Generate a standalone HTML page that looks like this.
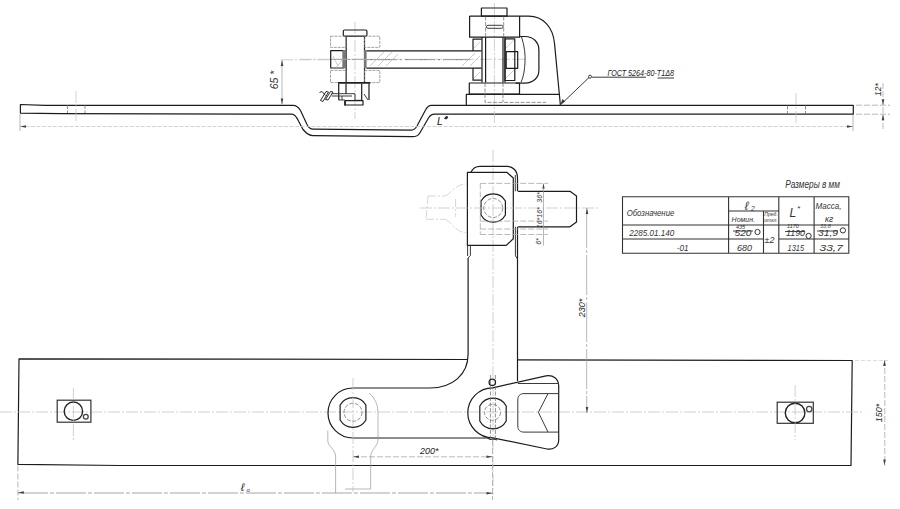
<!DOCTYPE html>
<html><head><meta charset="utf-8">
<style>
html,body{margin:0;padding:0;background:#fff;width:900px;height:509px;overflow:hidden}
svg{display:block;position:absolute;left:0;top:0}
.k{stroke:#1c1c1c;stroke-width:1.2;fill:none;stroke-linejoin:round}
.kt{stroke:#3a3a3a;stroke-width:1;fill:none}
.t{stroke:#9a9a9a;stroke-width:0.7;fill:none}
.d{stroke:#a8a8a8;stroke-width:0.8;fill:none;stroke-dasharray:6 2}
.c{stroke:#bdbdbd;stroke-width:0.7;fill:none;stroke-dasharray:12 2 2 2}
.dk{stroke:#777;stroke-width:0.8;fill:none;stroke-dasharray:4 1.5}
.h{stroke:#b5b5b5;stroke-width:0.7;fill:none}
text{font-family:"Liberation Sans",sans-serif;font-style:italic;fill:#333}
</style></head><body>
<svg width="900" height="509" viewBox="0 0 900 509">
<!-- ===== TOP VIEW ===== -->
<!-- bar -->
<path class="k" d="M20.4,104.5 L45,105.3 L293,105.3 C296.5,105.3 298.5,107 300.5,110.5 L307,124.5 C308.5,127.5 310,129.2 313,129.2 L411,130.2 C414,130.2 415.5,128.5 417,126 L425.5,110 C427,107 428.5,105.3 431.5,105.3 L853.3,105.3 L853.3,114.2 L434.5,114.1 C431.5,114.1 430,115.5 428.5,118 L419.5,133.5 C418,136 416,136.7 412.5,136.7 L313,135.6 C309,135.6 306,133 303,129.5 L298.5,121 C296.5,117 295,114.2 292,114.2 L60,113.6 L20.4,113.1 Z"/>
<path class="dk" d="M67.5,105 V113 M85,105 V113 M787.5,105.5 V114 M805.5,105.5 V114"/>
<path class="c" d="M76,91 V122 M796,93 V124"/>
<!-- L* dimension -->
<path class="t" d="M20,114 V131 M853,115 V131"/>
<path stroke="#c8c8c8" stroke-width="0.8" fill="none" stroke-dasharray="4 1.5" d="M20,126.5 H853"/>
<path d="M20,126.5 l6,-1.3 v2.6 z M853,126.5 l-6,-1.3 v2.6 z" fill="#444"/>
<text x="437" y="124.5" font-size="10.5" style="fill:#222">L</text><path d="M444.5,118.5 L446,116.5 L448,117 L446.5,119 Z" fill="#222" stroke="#222" stroke-width="0.8"/>
<!-- 12* dim -->
<path class="d" d="M856,105.2 H890 M856,114.2 H890 M883,83 V129"/>
<path d="M883,105.2 l-1.3,-6 h2.6 z M883,114.2 l-1.3,6 h2.6 z" fill="#444"/>
<text transform="translate(881,89.5) rotate(-90)" font-size="8.5" text-anchor="middle" style="fill:#222">12*</text>
<!-- 65* dim -->
<path class="t" d="M282,60 V104.6"/>
<path class="c" d="M281,59.8 H331"/>
<path stroke="#777" stroke-width="0.8" fill="none" stroke-dasharray="14 2 3 2" d="M331,59.4 H366"/>
<path d="M282,60 l-1.3,6 h2.6 z M282,104.6 l-1.3,-6 h2.6 z" fill="#444"/>
<text transform="translate(278,80) rotate(-90)" font-size="10.5" text-anchor="middle">65 *</text>

<!-- left bolt assembly -->
<path class="c" d="M355,22 V119"/>
<rect class="k" x="343.3" y="30" width="23.6" height="6.2" rx="1.2"/>
<path class="k" d="M346.2,36.2 V82.8 M364.5,36.2 V82.8"/>
<g stroke="#8a8a8a" stroke-width="0.8" fill="none" stroke-dasharray="3 1">
<rect x="330.5" y="36.2" width="15.5" height="11.2"/>
<rect x="364.5" y="36.2" width="15.3" height="11.2"/>
<rect x="330.5" y="70.4" width="15.5" height="12.2"/>
<rect x="364.5" y="70.4" width="15.3" height="12.2"/>
</g>
<rect class="k" x="330.7" y="50.7" width="12.6" height="17.3"/>
<rect x="342.7" y="50" width="3.6" height="18.4" fill="#777"/>
<rect x="364" y="50" width="2.6" height="18.4" fill="#777"/>
<path class="h" d="M333,56 L338,66 M336,68 L342,60"/>
<path d="M338,82.8 H370.3" stroke="#222" stroke-width="1.8"/>
<path class="k" d="M338.7,83.5 V100 M369,83.5 V100 M346,83.5 V94 M361.7,83.5 V100.3"/>
<path class="kt" d="M331.7,93.7 H355 V100.3 H361.7 M331.7,96 H352 M338.7,96 V100 H342 V96 M342,100 H345"/>
<path class="k" d="M345,100.7 H363 V105 H345 Z"/>
<path d="M345,101 V105.5" stroke="#222" stroke-width="1.6"/>
<path class="kt" d="M364,94 L368,100"/>
<path d="M319.5,92.5 L322,91.5 L325.5,95.5 M320.5,100.5 L326,91.5 L328.5,92 L323,101.5 Z M325.5,99.5 L330.5,91.5 L333,92 L328,100 Z" fill="none" stroke="#2a2a2a" stroke-width="1"/>
<!-- arm bar -->
<path class="k" d="M366.6,50.9 H481.6 M366.6,68.2 H481.6"/>
<path stroke="#666" stroke-width="0.9" fill="none" stroke-dasharray="30 3 2 3" d="M367,59.6 H470"/>
<path class="c" d="M300,59.3 H525"/>
<path class="h" d="M370,66 L384,52 M378,66 L392,52 M386,66 L398,54 M462,66 L475,53 M470,66 L480,56"/>

<!-- right clamp -->
<path class="c" d="M494.4,3 V125"/>
<rect class="k" x="481.4" y="8" width="25.6" height="8.1"/>
<path class="k" d="M469.6,16.1 H528.7 C543,16.1 553,27 554.5,43.4 L560.4,105.3 M469.6,16.1 V37.2 H519.6 V16.1"/>
<rect class="kt" x="486.4" y="25.3" width="16.7" height="3" rx="1.5"/>
<path class="dk" d="M485.6,16.5 V37 M503.7,16.5 V37"/>
<!-- D shape -->
<path class="k" d="M519.4,36.5 H525 C533,36.5 538.9,42 538.9,50 V70 C538.9,78 533,83.1 525,83.1 H515.6"/>
<path class="kt" d="M521.5,36.8 C524.5,46 525.5,55 525,62 C524.7,70 523.5,77 521,82.4"/>
<!-- bushings -->
<path class="k" d="M473,50.9 V39.2 H481.6 M473,68.2 V80.2 H481.6"/>
<rect class="k" x="505" y="38.9" width="9.8" height="41.6"/>
<path class="h" d="M474,48 L480,42 M474,78 L480,72 M506,48 L514,40 M506,78 L514,70"/>
<path class="k" d="M482,37 V82.5 M485.6,37 V82.5 M503,37 V82.5 M505,37 V82.5"/>
<rect class="k" x="506.2" y="51.6" width="11.5" height="16.7"/>
<!-- base -->
<rect class="k" x="469.3" y="83" width="50.2" height="11.2"/>
<path class="k" d="M466.3,105.3 V94.4 H559.3"/>
<path class="dk" d="M485,83 V102.4 H546 M503,83 V102"/>
<!-- leader -->
<path class="kt" d="M560.3,105 L589,77.5 M592,77.2 H646 M657.5,78 H674"/>
<circle class="kt" cx="590" cy="76.7" r="1.5"/>
<path d="M560.5,104.5 l2,-5.5 l2.5,2.5 z" fill="#333"/>
<text x="607.5" y="76" font-size="8.5" textLength="66.5" lengthAdjust="spacingAndGlyphs" style="fill:#222">ГОСТ 5264-80-Т1Δ8</text>

<!-- ===== BOTTOM VIEW ===== -->
<!-- plate -->
<path class="k" d="M467.6,359.5 L19,358.8 L17.9,464.3 L120,465.5 L851,465.5 L852.2,360.5 L517.5,359.9"/>
<path class="c" d="M0,412 H862"/>
<!-- holes -->
<rect x="57.2" y="400.2" width="33.7" height="22" fill="none" stroke="#333" stroke-width="1.2"/>
<circle cx="73.4" cy="411.2" r="9.2" fill="none" stroke="#222" stroke-width="1.4"/>
<circle cx="85.8" cy="416.7" r="2.4" fill="none" stroke="#444" stroke-width="1.3"/>
<path class="c" d="M73.4,388 V440"/>
<rect x="777.2" y="402.2" width="36.1" height="21.1" fill="none" stroke="#333" stroke-width="1.2"/>
<circle cx="795.1" cy="413" r="9.8" fill="none" stroke="#222" stroke-width="1.4"/>
<circle cx="809.2" cy="409.1" r="2.7" fill="none" stroke="#444" stroke-width="1.3"/>
<path class="c" d="M795.1,385 V440"/>
<!-- 150* dim -->
<path stroke="#d0d0d0" stroke-width="0.7" fill="none" stroke-dasharray="4 2" d="M855,360.5 H888"/>
<path class="d" d="M884.8,360 V465.6"/>
<path d="M884.5,360 l-1.3,6 h2.6 z M884.5,465.6 l-1.3,-6 h2.6 z" fill="#444"/>
<text transform="translate(882,413) rotate(-90)" font-size="9" text-anchor="middle" style="fill:#222">150*</text>

<!-- vertical arm -->
<path class="c" d="M493,150 V495"/>
<path class="k" d="M468.1,258 V354 C468.1,375 452,388 430,388 H353 A25,25 0 0 0 353,438 H490"/>
<path class="k" d="M517.5,246 V381"/>
<!-- nut left -->
<path class="k" d="M340.1,405 A15,15 0 0 1 365.9,405 V420 A15,15 0 0 1 340.1,420 Z"/>
<circle class="dk" cx="353" cy="412.3" r="9"/>
<!-- clevis -->
<path class="k" d="M492.8,387.8 L546,375.8 C553,374.5 558.7,379 558.7,386 V440 C558.7,446 554,450 547,449 L492.8,437.8 A25,25 0 0 1 492.8,387.8 Z"/>
<path class="kt" d="M517.8,383.5 H559 M524,393.6 H559 M524,432.1 H559 M517.8,400 C517.8,396 520,393.6 524,393.6 M517.8,426 C517.8,430 520,432.1 524,432.1 M517.8,400 V426 M548,393.6 L538.4,412.3 L548,432.1"/>
<path class="k" d="M479.8,406 A15,15 0 0 1 506.2,406 V421 A15,15 0 0 1 479.8,421 Z"/>
<path class="dk" d="M490.4,375 V440 M495.4,375 V440"/>
<circle class="dk" cx="492.5" cy="412.3" r="8"/>
<circle cx="492.3" cy="382.3" r="3.2" fill="none" stroke="#222" stroke-width="1.3"/>
<path d="M487,437.5 L490,439.5 L494,439 L497,440" fill="none" stroke="#333" stroke-width="1.2"/>
<!-- top block -->
<path class="k" d="M467.4,245.4 V172.3 H506.8 L513.3,178 V238.75 L506.25,245.4 Z"/>
<path class="kt" d="M467.6,245.4 V256 M470.4,245.4 V255.4 L468.1,258 M515.4,226.8 V255.8 L517.5,259 M515.3,175 V191.3"/>
<path class="k" d="M471,172 C473,168 475,166.3 480,166.3 H507 C513,166.3 517.5,171 517.5,178 V191.3 M517.5,226.8 V246"/>
<path class="k" d="M518.1,191.3 H570 L576.5,196 V222 L570,226.8 H518.1"/>
<path class="k" d="M481,201 A14,14 0 0 1 505.4,201 V215 A14,14 0 0 1 481,215 Z"/>
<circle class="dk" cx="493.2" cy="208" r="9.5"/>
<path class="d" d="M480.3,183.4 H548 M480.3,234.5 H548 M480.3,183.4 V234.5 M480.3,221.1 H548 M480.3,229 H548"/>
<path stroke="#c4c4c4" stroke-width="0.7" fill="none" stroke-dasharray="8 2 2 2" d="M445,196 C452,193 455,184 467,184 M445,219.3 C452,222 455,232.6 467,232.6 M428,196 H445 M426,219.3 H445 M428,196 L426,219.3 M455.6,199 V216.8"/>
<path class="c" d="M420,208 H600"/>
<path class="t" d="M543.5,183.4 V245.5"/>
<g style="fill:#222">
<text transform="translate(542,197.5) rotate(-90)" font-size="7" text-anchor="middle">36*</text>
<text transform="translate(542,212.5) rotate(-90)" font-size="7" text-anchor="middle">16*</text>
<text transform="translate(541.5,223) rotate(-90)" font-size="7" text-anchor="middle">16*</text>
<text transform="translate(540.5,241.5) rotate(-90)" font-size="7" text-anchor="middle">6*</text>
</g>
<path d="M543.5,183.4 l-1.2,5 h2.4 z" fill="#444"/>
<!-- 230 dim -->
<path stroke="#9a9a9a" stroke-width="0.7" fill="none" stroke-dasharray="40 2 3 2" d="M586.7,208 V412.9"/>
<path d="M587,208 l-1.3,6 h2.6 z M587,412.9 l-1.3,-6 h2.6 z" fill="#444"/>
<text transform="translate(585,308) rotate(-90)" font-size="9" text-anchor="middle" style="fill:#222">230*</text>
<!-- 200 dim -->
<path class="d" d="M353,456.8 H492.5 M492.5,440 V500"/>
<path d="M353,456.8 l6,-1.3 v2.6 z M492.5,456.8 l-6,-1.3 v2.6 z" fill="#444"/>
<text x="420" y="453.5" font-size="9" style="fill:#222">200*</text>
<!-- l0 dim -->
<path stroke="#8f8f8f" stroke-width="0.8" fill="none" stroke-dasharray="30 2 4 2" d="M17.9,493 H492.5"/>
<path class="d" d="M17.9,465.5 V500"/>
<path d="M17.9,492.5 l6,-1.3 v2.6 z M492.5,493.3 l-6,-1.3 v2.6 z" fill="#444"/>
<text x="241" y="491" font-size="11" style="fill:#222">ℓ</text><text x="246.5" y="491.5" font-size="6" style="fill:#222">o</text>
<!-- ghost lines -->
<path class="t" d="M327.8,430.5 V441 C327.8,446 335.6,450 335.6,456 V493 M369,393 A25,25 0 0 1 378,412 V440 C378,446 370.7,450 370.7,456 V489 H345"/>
<path class="c" d="M353,378 V492"/>

<!-- ===== TABLE ===== -->
<g class="tb">
<text x="785.2" y="188.2" font-size="10" textLength="54.7" lengthAdjust="spacingAndGlyphs">Размеры в мм</text>
<path stroke="#333" stroke-width="1.1" fill="none" d="M622.5,196.7 H848.8 V253.2 H622.5 Z M728.6,196.7 V253.2 M778.8,196.7 V253.2 M814.1,196.7 V253.2 M728.6,211 H778.8 M763.5,211 V253.2 M622.5,225 H848.8 M622.5,239 H763.5 M778.8,239 H848.8"/>
<text x="626.7" y="216.2" font-size="9.5" textLength="47.6" lengthAdjust="spacingAndGlyphs">Обозначение</text>
<text x="744.5" y="210" font-size="12">ℓ</text><text x="751" y="210.5" font-size="6.5">2</text>
<text x="731.6" y="221.8" font-size="6.5" textLength="23.4" lengthAdjust="spacingAndGlyphs">Номин.</text>
<text x="764.3" y="215.5" font-size="4.8" textLength="13.5" lengthAdjust="spacingAndGlyphs">Пред.</text><text x="764.3" y="222" font-size="4.8" textLength="13.5" lengthAdjust="spacingAndGlyphs">откл.</text>
<text x="789.5" y="216.5" font-size="12">L</text><text x="797" y="211" font-size="8">*</text>
<text x="815.5" y="209" font-size="8.5" textLength="26" lengthAdjust="spacingAndGlyphs">Масса,</text><text x="825" y="222" font-size="8.5">кг</text>
<text x="629.2" y="235.5" font-size="9" textLength="45" lengthAdjust="spacingAndGlyphs">2285.01.140</text>
<text x="736" y="228.5" font-size="5.5">435</text>
<text x="734.5" y="235.5" font-size="9" textLength="17" lengthAdjust="spacingAndGlyphs">520</text>
<path stroke="#333" stroke-width="0.9" d="M733,231 H753 M785,231.5 H805 M817,231 H838"/>
<circle cx="757.5" cy="232" r="2.6" fill="none" stroke="#333" stroke-width="1"/>
<text x="764.5" y="243.3" font-size="9">±2</text>
<text x="787" y="227.5" font-size="5.5">1170</text>
<text x="786" y="235.5" font-size="9" textLength="19" lengthAdjust="spacingAndGlyphs">1190</text>
<circle cx="808.6" cy="235.9" r="2.6" fill="none" stroke="#333" stroke-width="1"/>
<text x="820" y="227.5" font-size="5.5">33,8</text>
<text x="818" y="235.5" font-size="9" textLength="20" lengthAdjust="spacingAndGlyphs">31,9</text>
<circle cx="842.9" cy="230.4" r="2.6" fill="none" stroke="#333" stroke-width="1"/>
<text x="676.8" y="250.5" font-size="9" textLength="11.7" lengthAdjust="spacingAndGlyphs">-01</text>
<text x="737" y="250.5" font-size="9.5" textLength="15" lengthAdjust="spacingAndGlyphs">680</text>
<text x="787.6" y="250.5" font-size="9.5" textLength="16.4" lengthAdjust="spacingAndGlyphs">1315</text>
<text x="819.5" y="251" font-size="9.5" textLength="23.4" lengthAdjust="spacingAndGlyphs">33,7</text>
</g>
</svg>
</body></html>
